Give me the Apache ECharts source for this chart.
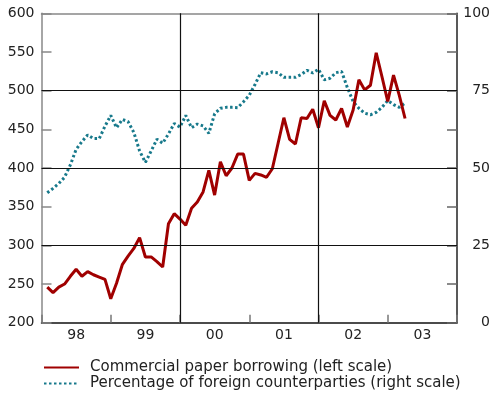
<!DOCTYPE html>
<html>
<head>
<meta charset="utf-8">
<script src="https://cdn.jsdelivr.net/npm/echarts@6/dist/echarts.min.js"></script>
<style>html,body{margin:0;padding:0;background:#fff;}#c{width:493px;height:398px;}</style>
</head>
<body>
<div id="c"></div>
<script>
// Month index: 0 = start of January 1998, 12 months per year
const yearLabels = ['98', '99', '00', '01', '02', '03'];
const firstMonth = 1;
// Commercial paper borrowing (left scale)
const paperBorrowing = [
  246, 239, 246, 250, 260, 269, 260, 266, 262, 259, 256, 231,
  251, 275, 286, 296, 310, 285, 285, 279, 272, 328, 341, 334,
  326, 348, 356, 369, 397, 365, 408, 390, 400, 418, 418, 384,
  393, 391, 388, 399, 432, 465, 437, 431, 465, 464, 476, 452,
  487, 468, 462, 477, 453, 475, 514, 501, 507, 549, 518, 486,
  520, 494, 464
];
// Percentage of foreign counterparties (right scale)
const foreignShare = [
  42, 43.4, 45, 47, 51, 56, 58.5, 60.7, 59.5, 59.5, 63.5, 67,
  63, 65.7, 65, 61.5, 55.5, 51.8, 55.5, 59.3, 58, 61, 64.4, 63.2,
  67, 63, 64.2, 63.6, 61.2, 67.5, 69.3, 69.6, 69.6, 69.5, 71.4, 73.5,
  77, 80.8, 80.4, 81.1, 80.8, 79.3, 79.3, 79.3, 80.2, 81.6, 80.7, 81.9,
  78.5, 79, 80.8, 81.2, 76, 71.5, 69.3, 67.7, 67.2, 68, 69.6, 71.8,
  70.5, 69.6, 71
];
const leftTicks = { min: 200, max: 600, interval: 50 };
const rightTicks = { min: 0, max: 100, interval: 12.5, labelEvery: 25 };
const hGridLines = [300, 400, 500];
const vGridLines = [24, 48];

const toPairs = arr => arr.map((v, i) => [firstMonth + i, v]);
const font = 'DejaVu Sans';
const txt = '#222';

const chart = echarts.init(document.getElementById('c'), null, { renderer: 'canvas' });
chart.setOption({
  animation: false,
  backgroundColor: '#fff',
  grid: { left: 41.5, right: 35.7, top: 13.3, bottom: 75.3, containLabel: false },
  legend: {
    orient: 'vertical', left: 38, top: 355,
    itemWidth: 35, itemHeight: 14, itemGap: 1,
    itemStyle: { opacity: 0 },
    textStyle: { fontFamily: font, fontSize: 15, lineHeight: 15, color: txt, padding: [0, 0, 0, 6] },
    data: ['Commercial paper borrowing (left scale)', 'Percentage of foreign counterparties (right scale)']
  },
  xAxis: [
    {
      type: 'value', min: 0, max: 72, interval: 12,
      axisLine: { show: true, onZero: false, lineStyle: { color: '#111', width: 1.5 } },
      axisTick: { show: true, inside: true, length: 8, lineStyle: { color: '#777', width: 1.5 } },
      axisLabel: { show: false }, splitLine: { show: false }
    },
    {
      type: 'category', data: yearLabels, position: 'bottom',
      axisLine: { show: false, onZero: false }, axisTick: { show: false }, splitLine: { show: false },
      axisLabel: { fontFamily: font, fontSize: 14, color: txt, margin: 6 }
    },
    {
      type: 'value', min: 0, max: 72, position: 'top',
      axisLine: { show: true, onZero: false, lineStyle: { color: '#888', width: 1.5 } },
      axisTick: { show: false }, axisLabel: { show: false }, splitLine: { show: false }
    }
  ],
  yAxis: [
    {
      type: 'value', min: leftTicks.min, max: leftTicks.max, interval: leftTicks.interval, position: 'left',
      axisLine: { show: true, onZero: false, lineStyle: { color: '#888', width: 1.5 } },
      axisTick: { show: true, inside: true, length: 10, lineStyle: { color: '#888', width: 1.5 } },
      axisLabel: { fontFamily: font, fontSize: 14, color: txt, margin: 7 },
      splitLine: { show: false }
    },
    {
      type: 'value', min: rightTicks.min, max: rightTicks.max, interval: rightTicks.interval, position: 'right',
      axisLine: { show: true, onZero: false, lineStyle: { color: '#222', width: 1.5 } },
      axisTick: { show: true, inside: true, length: 10, lineStyle: { color: '#666', width: 1.5 } },
      axisLabel: {
        fontFamily: font, fontSize: 14, color: txt, margin: 33, align: 'right',
        formatter: v => (v % rightTicks.labelEvery === 0 ? String(v) : '')
      },
      splitLine: { show: false }
    }
  ],
  series: [
    {
      type: 'line', data: [], xAxisIndex: 0, yAxisIndex: 0, z: 1, silent: true,
      markLine: {
        silent: true, symbol: 'none', label: { show: false }, animation: false,
        lineStyle: { color: '#111', type: 'solid', width: 1.2 },
        data: hGridLines.map(v => ({ yAxis: v })).concat(vGridLines.map(v => ({ xAxis: v })))
      }
    },
    {
      name: 'Percentage of foreign counterparties (right scale)',
      type: 'line', data: toPairs(foreignShare), xAxisIndex: 0, yAxisIndex: 1, z: 3,
      showSymbol: false, symbol: 'none',
      lineStyle: { color: '#17798b', width: 3, type: [2.5, 2.5] },
      itemStyle: { color: '#17798b' }
    },
    {
      name: 'Commercial paper borrowing (left scale)',
      type: 'line', data: toPairs(paperBorrowing), xAxisIndex: 0, yAxisIndex: 0, z: 4,
      showSymbol: false, symbol: 'none',
      lineStyle: { color: '#a00000', width: 3 },
      itemStyle: { color: '#a00000' }
    }
  ]
});
</script>
</body>
</html>
